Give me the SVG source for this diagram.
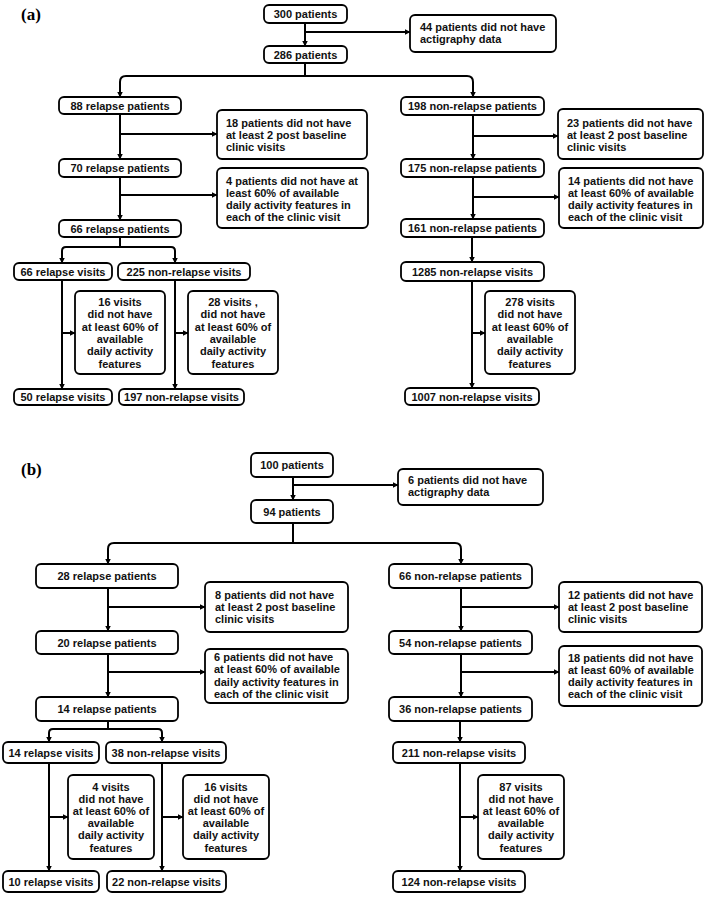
<svg xmlns="http://www.w3.org/2000/svg" width="708" height="898" viewBox="0 0 708 898">
<defs>
<marker id="ah" markerWidth="6" markerHeight="6" refX="5.5" refY="3" orient="auto" markerUnits="userSpaceOnUse">
<path d="M0,0 L6,3 L0,6 Z" fill="#000"/>
</marker>
<style>
.b{fill:#fff;stroke:#000;stroke-width:1.8}
.t{font-family:"Liberation Sans",Arial,sans-serif;font-size:11px;font-weight:bold;fill:#111}
.c{text-anchor:middle}
.lbl{font-family:"Liberation Serif","Times New Roman",serif;font-size:17px;font-weight:bold;fill:#000}
.e{fill:none;stroke:#000;stroke-width:2}
.ea{fill:none;stroke:#000;stroke-width:2;marker-end:url(#ah)}
</style>
</defs>
<rect width="708" height="898" fill="#fff"/>
<text class="lbl" x="21" y="20">(a)</text>
<text class="lbl" x="21" y="475">(b)</text>

<g id="connectors">
<!-- panel a -->
<path class="ea" d="M305 23 V46"/>
<path class="ea" d="M305 32 H410"/>
<path class="ea" d="M305 63 V76 H126 Q120 76 120 82 V97"/>
<path class="ea" d="M305 76 H467 Q473 76 473 82 V97"/>
<path class="ea" d="M120 114 V159"/>
<path class="ea" d="M120 134 H217"/>
<path class="ea" d="M120 177 V220"/>
<path class="ea" d="M120 195 H217"/>
<path class="ea" d="M120 237 V247 H66 Q62 247 62 251 V263"/>
<path class="ea" d="M120 247 H171 Q175 247 175 251 V263"/>
<path class="ea" d="M62 280 V389"/>
<path class="ea" d="M62 333 H75"/>
<path class="ea" d="M175 280 V389"/>
<path class="ea" d="M175 333 H188"/>
<path class="ea" d="M473 115 V159"/>
<path class="ea" d="M473 136 H558"/>
<path class="ea" d="M473 177 V219"/>
<path class="ea" d="M473 197 H559"/>
<path class="ea" d="M472 237 V262"/>
<path class="ea" d="M472 281 V388"/>
<path class="ea" d="M472 333 H485"/>
<!-- panel b -->
<path class="ea" d="M293 477 V500"/>
<path class="ea" d="M293 485 H398"/>
<path class="ea" d="M293 523 V543 H114 Q108 543 108 549 V564"/>
<path class="ea" d="M293 543 H455 Q461 543 461 549 V564"/>
<path class="ea" d="M108 588 V631"/>
<path class="ea" d="M108 607 H205"/>
<path class="ea" d="M108 654 V697"/>
<path class="ea" d="M108 672 H205"/>
<path class="ea" d="M108 721 V729 H53 Q49 729 49 733 V742"/>
<path class="ea" d="M108 729 H158 Q162 729 162 733 V742"/>
<path class="ea" d="M49 763 V871"/>
<path class="ea" d="M49 817 H68"/>
<path class="ea" d="M162 763 V871"/>
<path class="ea" d="M162 817 H183"/>
<path class="ea" d="M461 588 V631"/>
<path class="ea" d="M461 607 H559"/>
<path class="ea" d="M461 654 V697"/>
<path class="ea" d="M461 672 H559"/>
<path class="ea" d="M460 721 V742"/>
<path class="ea" d="M460 763 V871"/>
<path class="ea" d="M460 817 H478"/>
</g>

<!-- panel a nodes -->
<g id="a300"><rect class="b" x="264" y="5" width="83" height="18" rx="5"/><text class="t c" x="305.5" y="18">300 patients</text></g>
<g id="a44"><rect class="b" x="410" y="15" width="146" height="37" rx="5"/><text class="t" x="420" y="30.5">44 patients did not have</text><text class="t" x="420" y="43">actigraphy data</text></g>
<g id="a286"><rect class="b" x="264" y="46" width="83" height="17" rx="5"/><text class="t c" x="305.5" y="58.5">286 patients</text></g>
<g id="a88"><rect class="b" x="59" y="97" width="122" height="17" rx="5"/><text class="t c" x="120" y="109.5">88 relapse patients</text></g>
<g id="a198"><rect class="b" x="401" y="97" width="143" height="18" rx="5"/><text class="t c" x="472.5" y="110">198 non-relapse patients</text></g>
<g id="a18"><rect class="b" x="217" y="110" width="150" height="49" rx="5"/><text class="t" x="226" y="127">18 patients did not have</text><text class="t" x="226" y="139">at least 2 post baseline</text><text class="t" x="226" y="151">clinic visits</text></g>
<g id="a23"><rect class="b" x="558" y="109" width="145" height="50" rx="5"/><text class="t" x="567" y="126.5">23 patients did not have</text><text class="t" x="567" y="138.5">at least 2 post baseline</text><text class="t" x="567" y="150.5">clinic visits</text></g>
<g id="a70"><rect class="b" x="59" y="159" width="122" height="18" rx="5"/><text class="t c" x="120" y="172">70 relapse patients</text></g>
<g id="a175"><rect class="b" x="401" y="159" width="143" height="18" rx="5"/><text class="t c" x="472.5" y="172">175 non-relapse patients</text></g>
<g id="a4"><rect class="b" x="217" y="168" width="151" height="60" rx="5"/><text class="t" x="226" y="184.5">4 patients did not have at</text><text class="t" x="226" y="196.5">least 60% of available</text><text class="t" x="226" y="208.5">daily activity features in</text><text class="t" x="226" y="220.5">each of the clinic visit</text></g>
<g id="a14"><rect class="b" x="559" y="168" width="144" height="60" rx="5"/><text class="t" x="568" y="184.5">14 patients did not have</text><text class="t" x="568" y="196.5">at least 60% of available</text><text class="t" x="568" y="208.5">daily activity features in</text><text class="t" x="568" y="220.5">each of the clinic visit</text></g>
<g id="a66"><rect class="b" x="59" y="220" width="122" height="17" rx="5"/><text class="t c" x="120" y="232.5">66 relapse patients</text></g>
<g id="a161"><rect class="b" x="401" y="219" width="143" height="18" rx="5"/><text class="t c" x="472.5" y="232">161 non-relapse patients</text></g>
<g id="a66v"><rect class="b" x="14" y="263" width="98" height="17" rx="5"/><text class="t c" x="63" y="275.5">66 relapse visits</text></g>
<g id="a225v"><rect class="b" x="118" y="263" width="132" height="17" rx="5"/><text class="t c" x="184" y="275.5">225 non-relapse visits</text></g>
<g id="a1285"><rect class="b" x="401" y="262" width="143" height="19" rx="5"/><text class="t c" x="472.5" y="275.5">1285 non-relapse visits</text></g>
<g id="a16v"><rect class="b" x="75" y="291" width="90" height="83" rx="5"/><text class="t c" x="120" y="306">16 visits</text><text class="t c" x="120" y="318.3">did not have</text><text class="t c" x="120" y="330.6">at least 60% of</text><text class="t c" x="120" y="342.9">available</text><text class="t c" x="120" y="355.2">daily activity</text><text class="t c" x="120" y="367.5">features</text></g>
<g id="a28v"><rect class="b" x="188" y="291" width="90" height="83" rx="5"/><text class="t c" x="233" y="306">28 visits ,</text><text class="t c" x="233" y="318.3">did not have</text><text class="t c" x="233" y="330.6">at least 60% of</text><text class="t c" x="233" y="342.9">available</text><text class="t c" x="233" y="355.2">daily activity</text><text class="t c" x="233" y="367.5">features</text></g>
<g id="a278v"><rect class="b" x="485" y="291" width="90" height="83" rx="5"/><text class="t c" x="530" y="306">278 visits</text><text class="t c" x="530" y="318.3">did not have</text><text class="t c" x="530" y="330.6">at least 60% of</text><text class="t c" x="530" y="342.9">available</text><text class="t c" x="530" y="355.2">daily activity</text><text class="t c" x="530" y="367.5">features</text></g>
<g id="a50v"><rect class="b" x="14" y="389" width="98" height="16" rx="5"/><text class="t c" x="63" y="401">50 relapse visits</text></g>
<g id="a197v"><rect class="b" x="119" y="389" width="125" height="16" rx="5"/><text class="t c" x="181.5" y="401">197 non-relapse visits</text></g>
<g id="a1007v"><rect class="b" x="405" y="388" width="134" height="17" rx="5"/><text class="t c" x="472" y="400.5">1007 non-relapse visits</text></g>

<!-- panel b nodes -->
<g id="b100"><rect class="b" x="251" y="453" width="82" height="24" rx="5"/><text class="t c" x="292" y="469">100 patients</text></g>
<g id="b6a"><rect class="b" x="398" y="469" width="145" height="36" rx="5"/><text class="t" x="408" y="484">6 patients did not have</text><text class="t" x="408" y="496">actigraphy data</text></g>
<g id="b94"><rect class="b" x="251" y="500" width="82" height="23" rx="5"/><text class="t c" x="292" y="515.5">94 patients</text></g>
<g id="b28"><rect class="b" x="36" y="564" width="142" height="24" rx="5"/><text class="t c" x="107" y="580">28 relapse patients</text></g>
<g id="b66"><rect class="b" x="389" y="564" width="143" height="24" rx="5"/><text class="t c" x="460.5" y="580">66 non-relapse patients</text></g>
<g id="b8"><rect class="b" x="205" y="582" width="143" height="50" rx="5"/><text class="t" x="215" y="599">8 patients did not have</text><text class="t" x="215" y="611">at least 2 post baseline</text><text class="t" x="215" y="623">clinic visits</text></g>
<g id="b12"><rect class="b" x="559" y="582" width="143" height="50" rx="5"/><text class="t" x="568" y="599">12 patients did not have</text><text class="t" x="568" y="611">at least 2 post baseline</text><text class="t" x="568" y="623">clinic visits</text></g>
<g id="b20"><rect class="b" x="36" y="631" width="142" height="23" rx="5"/><text class="t c" x="107" y="646.5">20 relapse patients</text></g>
<g id="b54"><rect class="b" x="389" y="631" width="143" height="23" rx="5"/><text class="t c" x="460.5" y="646.5">54 non-relapse patients</text></g>
<g id="b6"><rect class="b" x="205" y="649" width="143" height="54" rx="5"/><text class="t" x="214" y="661">6 patients did not have</text><text class="t" x="214" y="673.3">at least 60% of available</text><text class="t" x="214" y="685.6">daily activity features in</text><text class="t" x="214" y="697.9">each of the clinic visit</text></g>
<g id="b18"><rect class="b" x="559" y="646" width="143" height="60" rx="5"/><text class="t" x="568" y="662">18 patients did not have</text><text class="t" x="568" y="674">at least 60% of available</text><text class="t" x="568" y="686">daily activity features in</text><text class="t" x="568" y="698">each of the clinic visit</text></g>
<g id="b14"><rect class="b" x="36" y="697" width="142" height="24" rx="5"/><text class="t c" x="107" y="713">14 relapse patients</text></g>
<g id="b36"><rect class="b" x="389" y="697" width="143" height="24" rx="5"/><text class="t c" x="460.5" y="713">36 non-relapse patients</text></g>
<g id="b14v"><rect class="b" x="3" y="742" width="96" height="21" rx="5"/><text class="t c" x="51" y="756.5">14 relapse visits</text></g>
<g id="b38v"><rect class="b" x="106" y="742" width="120" height="21" rx="5"/><text class="t c" x="166" y="756.5">38 non-relapse visits</text></g>
<g id="b211v"><rect class="b" x="393" y="742" width="132" height="21" rx="5"/><text class="t c" x="459" y="756.5">211 non-relapse visits</text></g>
<g id="b4v"><rect class="b" x="68" y="775" width="86" height="84" rx="5"/><text class="t c" x="111" y="790.5">4 visits</text><text class="t c" x="111" y="802.7">did not have</text><text class="t c" x="111" y="814.9">at least 60% of</text><text class="t c" x="111" y="827.1">available</text><text class="t c" x="111" y="839.3">daily activity</text><text class="t c" x="111" y="851.5">features</text></g>
<g id="b16v"><rect class="b" x="183" y="775" width="86" height="84" rx="5"/><text class="t c" x="226" y="790.5">16 visits</text><text class="t c" x="226" y="802.7">did not have</text><text class="t c" x="226" y="814.9">at least 60% of</text><text class="t c" x="226" y="827.1">available</text><text class="t c" x="226" y="839.3">daily activity</text><text class="t c" x="226" y="851.5">features</text></g>
<g id="b87v"><rect class="b" x="478" y="775" width="86" height="84" rx="5"/><text class="t c" x="521" y="790.5">87 visits</text><text class="t c" x="521" y="802.7">did not have</text><text class="t c" x="521" y="814.9">at least 60% of</text><text class="t c" x="521" y="827.1">available</text><text class="t c" x="521" y="839.3">daily activity</text><text class="t c" x="521" y="851.5">features</text></g>
<g id="b10v"><rect class="b" x="3" y="871" width="96" height="21" rx="5"/><text class="t c" x="51" y="885.5">10 relapse visits</text></g>
<g id="b22v"><rect class="b" x="107" y="871" width="119" height="21" rx="5"/><text class="t c" x="166.5" y="885.5">22 non-relapse visits</text></g>
<g id="b124v"><rect class="b" x="393" y="871" width="132" height="21" rx="5"/><text class="t c" x="459" y="885.5">124 non-relapse visits</text></g>
</svg>
